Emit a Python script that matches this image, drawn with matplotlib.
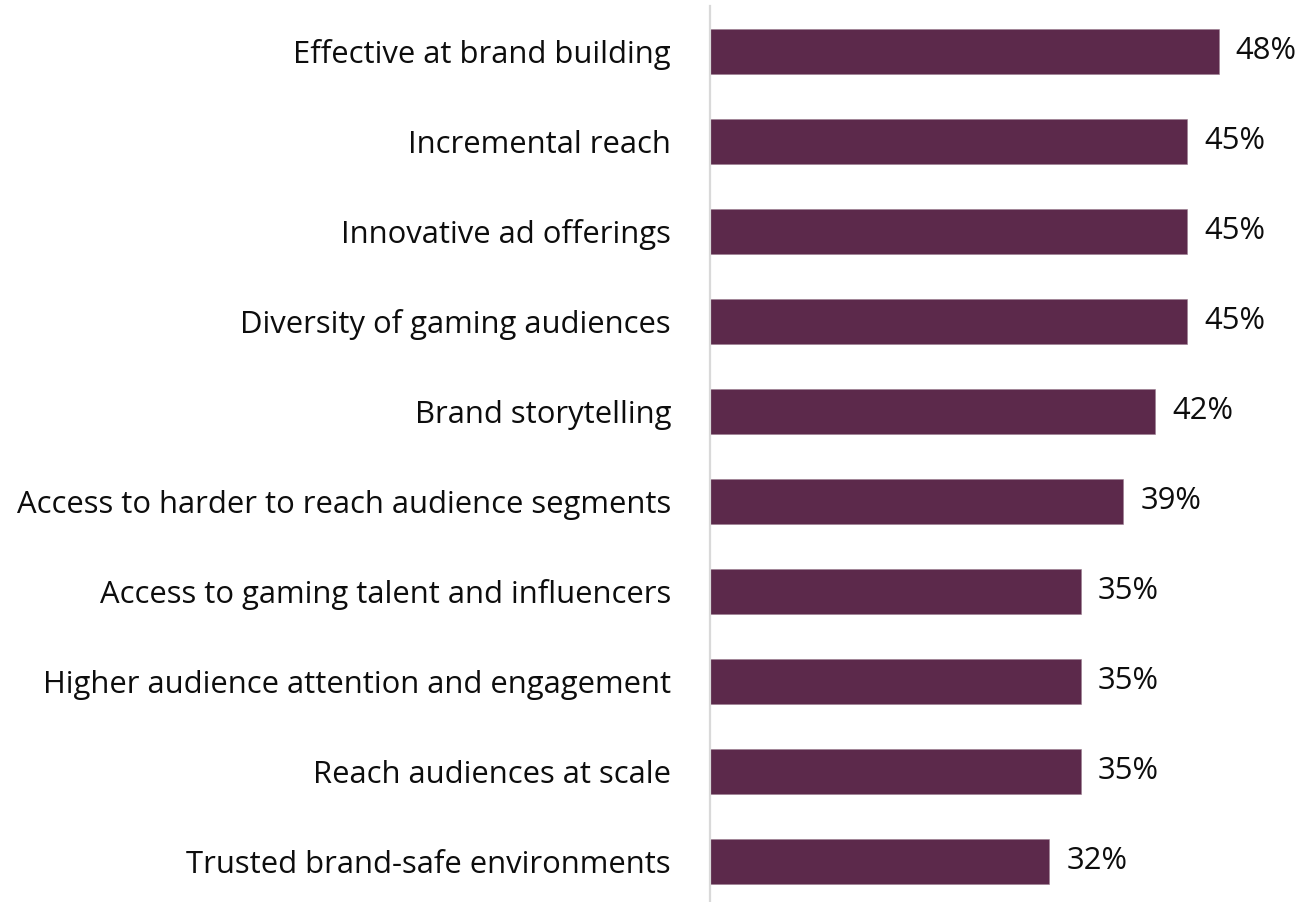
import matplotlib
matplotlib.use("Agg")
import matplotlib.pyplot as plt

categories = [
    "Effective at brand building",
    "Incremental reach",
    "Innovative ad offerings",
    "Diversity of gaming audiences",
    "Brand storytelling",
    "Access to harder to reach audience segments",
    "Access to gaming talent and influencers",
    "Higher audience attention and engagement",
    "Reach audiences at scale",
    "Trusted brand-safe environments",
]
values = [48, 45, 45, 45, 42, 39, 35, 35, 35, 32]

BAR_COLOR = "#5C294B"
TEXT_COLOR = "#0d0d0d"
FONT = "Open Sans"
FONT_SIZE = 22.3

W, H, DPI = 1306, 902, 100
fig = plt.figure(figsize=(W / DPI, H / DPI), dpi=DPI)
fig.patch.set_facecolor("white")

left = 710 / W
top_px, bottom_px = 6.5, 906.5
ax = fig.add_axes([left, 1 - bottom_px / H, 1 - left, (bottom_px - top_px) / H])

y = list(range(len(categories)))
ax.barh(y, values, height=0.5, color=BAR_COLOR, edgecolor="#9a7d90", linewidth=0.4)

ax.set_xlim(0, (W - 710) / 10.6)
ax.set_ylim(len(categories) - 0.5, -0.5)

for yi, v in zip(y, values):
    ax.annotate(f"{v}%", xy=(v, yi), xytext=(17, 0), textcoords="offset pixels",
                ha="left", va="center", fontsize=FONT_SIZE, family=FONT,
                weight="normal", color=TEXT_COLOR)

ax.set_yticks(y)
ax.set_yticklabels(categories, fontsize=FONT_SIZE, family=FONT, weight="normal",
                   color=TEXT_COLOR)
ax.tick_params(axis="y", length=0, pad=28)
ax.set_xticks([])

for side in ("top", "right", "bottom"):
    ax.spines[side].set_visible(False)
ax.spines["left"].set_color("#d9d9d9")
ax.spines["left"].set_linewidth(1.6)

fig.savefig("out.png", dpi=DPI, facecolor="white")
